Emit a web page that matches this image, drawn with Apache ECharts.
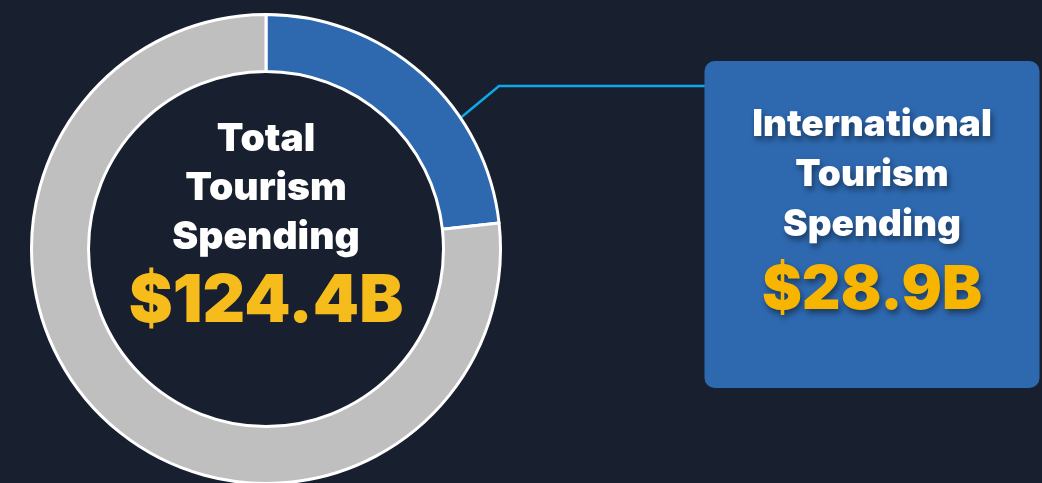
<!DOCTYPE html>
<html><head><meta charset="utf-8">
<script src="https://cdn.jsdelivr.net/npm/echarts@6/dist/echarts.min.js"></script>
<style>html,body{margin:0;padding:0;background:#18202f;}#c{width:1042px;height:483px;}</style>
</head><body><div id="c"></div>
<script>
const categories = ['International Tourism Spending', 'Domestic Tourism Spending'];
const values = [28.9, 95.5];
const totalTitle = ['Total', 'Tourism', 'Spending'];
const intlTitle = ['International', 'Tourism', 'Spending'];

const total = values.reduce((a, b) => a + b, 0);
const fmt = v => '$' + v.toFixed(1) + 'B';
const FONT = 'Inter';
const CX = 266, CY = 249, R_IN = 177.5, R_OUT = 234.5;

const chart = echarts.init(document.getElementById('c'), null, {renderer: 'canvas'});
chart.setOption({
  backgroundColor: '#18202f',
  animation: false,
  series: [{
    type: 'pie',
    center: [CX, CY],
    radius: [R_IN, R_OUT],
    startAngle: 90,
    clockwise: true,
    avoidLabelOverlap: false,
    emphasis: {disabled: true},
    itemStyle: {borderColor: '#ffffff', borderWidth: 3},
    labelLayout: function (p) {
      if (p.dataIndex !== 0) return {};
      const a = 56 * Math.PI / 180;
      const sx = CX + (R_OUT + 1.5) * Math.sin(a), sy = CY - (R_OUT + 1.5) * Math.cos(a);
      return {
        x: 872, y: 224.5, align: 'center', verticalAlign: 'middle',
        labelLinePoints: [[sx, sy], [499, 86], [706, 86]]
      };
    },
    data: [
      {
        name: categories[0], value: values[0],
        itemStyle: {color: '#2e69b0'},
        label: {
          show: true, position: 'outside',
          formatter: intlTitle.map(s => '{t|' + s + '}').join('\n') + '\n{v|' + fmt(values[0]) + '}',
          backgroundColor: '#2e69b0', borderRadius: 10,
          width: 335, padding: [39, 0, 56, 0], align: 'center',
          rich: {
            t: {fontFamily: FONT, fontWeight: 900, fontSize: 37, color: '#ffffff', lineHeight: 50,
                textShadowColor: 'rgba(0,0,0,0.45)', textShadowBlur: 6, textShadowOffsetX: 2, textShadowOffsetY: 4},
            v: {fontFamily: FONT, fontWeight: 900, fontSize: 60, color: '#f7b500', lineHeight: 82,
                textShadowColor: 'rgba(0,0,0,0.45)', textShadowBlur: 6, textShadowOffsetX: 2, textShadowOffsetY: 4}
          }
        },
        labelLine: {show: true, lineStyle: {color: '#0ea8e6', width: 2.5}}
      },
      {
        name: categories[1], value: values[1],
        itemStyle: {color: '#bfbfbf'},
        label: {
          show: true, position: 'center',
          formatter: totalTitle.map(s => '{t|' + s + '}').join('\n') + '\n{v|' + fmt(total) + '}',
          padding: [0, 0, 41, 0],
          rich: {
            t: {fontFamily: FONT, fontWeight: 900, fontSize: 39, color: '#ffffff', lineHeight: 49},
            v: {fontFamily: FONT, fontWeight: 900, fontSize: 66, color: '#f5bc1c', lineHeight: 80}
          }
        },
        labelLine: {show: false}
      }
    ]
  }]
});
</script></body></html>
